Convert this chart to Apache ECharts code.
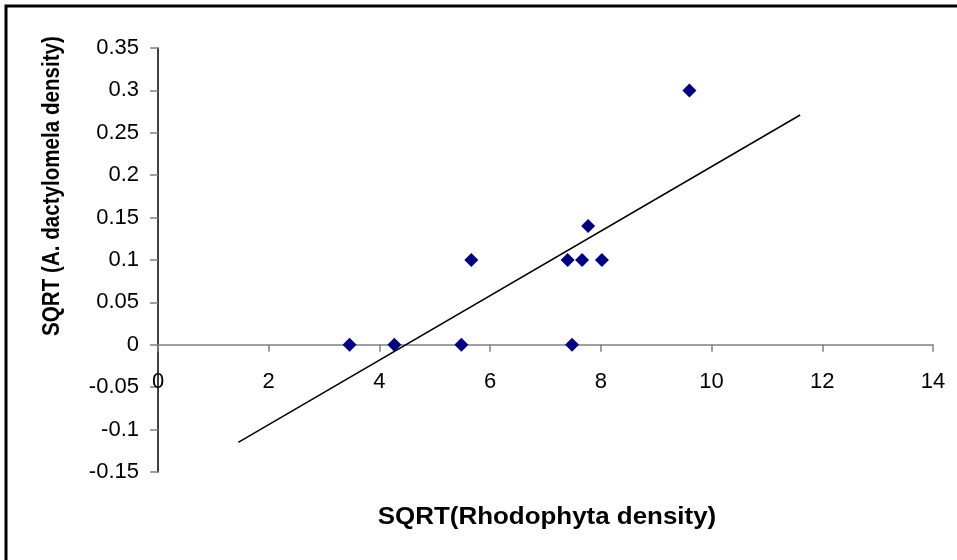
<!DOCTYPE html>
<html>
<head>
<meta charset="utf-8">
<script src="https://cdn.jsdelivr.net/npm/echarts@6/dist/echarts.min.js"></script>
<style>
  html, body { margin: 0; padding: 0; background: #fff; }
  #chart { width: 957px; height: 560px; }
</style>
</head>
<body>
<div id="chart"></div>
<script>
// rhodophyta vs A. dactylomela (both square-root transformed)
const rhodophyta = [3.46, 4.27, 5.48, 5.66, 7.40, 7.66, 8.02, 7.48, 9.60, 7.77]
const dactylomela = [0, 0, 0, 0.1, 0.1, 0.1, 0.1, 0, 0.3, 0.14]

// linear trendline ends
const trendX = [1.45, 11.6]
const trendY = [-0.115, 0.271]

const xTicks = [0, 2, 4, 6, 8, 10, 12, 14]
const yTicks = [-0.15, -0.1, -0.05, 0, 0.05, 0.1, 0.15, 0.2, 0.25, 0.3, 0.35]

const font = 'Arial, "Liberation Sans", sans-serif'

const chart = echarts.init(document.getElementById('chart'))

chart.setOption({
  animation: false,
  backgroundColor: '#fff',
  grid: { left: 158, right: 24, top: 48, bottom: 88 },
  graphic: [
    {
      type: 'rect',
      shape: { x: 6, y: 6, width: 1000, height: 1000 },
      style: { fill: 'none', stroke: '#000', lineWidth: 3 }
    },
    {
      type: 'text',
      x: 547, y: 517,
      scaleX: 1.08,
      style: {
        text: 'SQRT(Rhodophyta density)',
        font: 'bold 24px ' + font,
        fill: '#000',
        textAlign: 'center',
        textVerticalAlign: 'middle'
      }
    },
    {
      type: 'text',
      x: 53, y: 186,
      rotation: Math.PI / 2,
      scaleY: 1.12,
      style: {
        text: 'SQRT (A. dactylomela density)',
        font: 'bold 20.6px ' + font,
        fill: '#000',
        textAlign: 'center',
        textVerticalAlign: 'middle'
      }
    }
  ],
  xAxis: {
    type: 'value',
    min: xTicks[0],
    max: xTicks[xTicks.length - 1],
    interval: 2,
    splitLine: { show: false },
    axisLine: { onZero: true, lineStyle: { color: '#808080', width: 1.5 } },
    axisTick: { length: 7, lineStyle: { color: '#808080', width: 1.5 } },
    axisLabel: { margin: -101, fontSize: 22, color: '#000', fontFamily: font }
  },
  yAxis: {
    type: 'value',
    min: yTicks[0],
    max: yTicks[yTicks.length - 1],
    interval: 0.05,
    splitLine: { show: false },
    axisLine: { show: true, onZero: false, lineStyle: { color: '#000', width: 1.5 } },
    axisTick: { show: true, length: 8, lineStyle: { color: '#808080', width: 1.5 } },
    axisLabel: {
      margin: 19,
      fontSize: 22,
      color: '#000',
      fontFamily: font,
      formatter: v => String(Math.round(v * 100) / 100)
    }
  },
  series: [
    {
      type: 'scatter',
      symbol: 'diamond',
      symbolSize: 14,
      itemStyle: { color: '#000080', opacity: 1 },
      data: rhodophyta.map((x, i) => [x, dactylomela[i]]),
      z: 3
    },
    {
      type: 'line',
      showSymbol: false,
      symbol: 'none',
      lineStyle: { color: '#000', width: 1.5 },
      data: trendX.map((x, i) => [x, trendY[i]]),
      z: 2
    }
  ]
})
</script>
</body>
</html>
